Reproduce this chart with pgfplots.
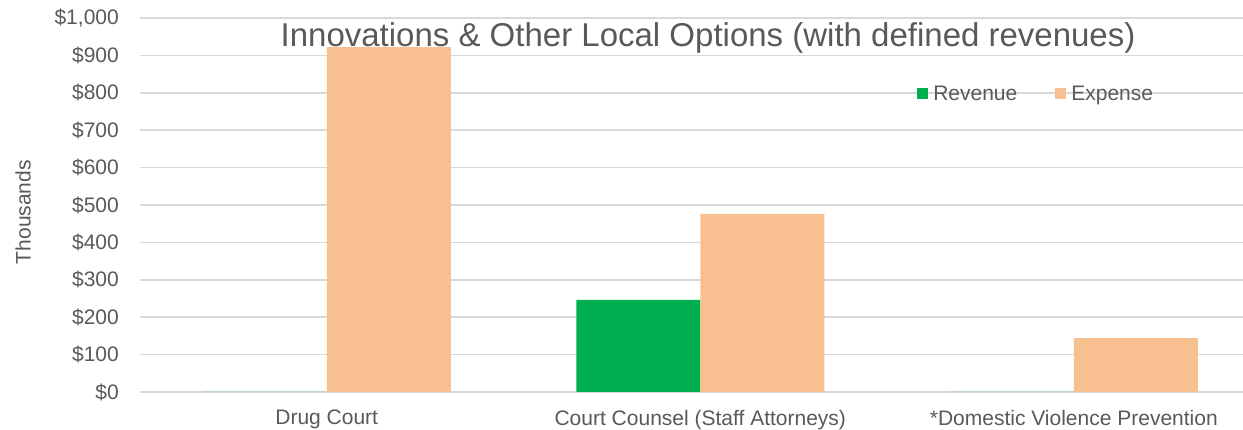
\documentclass[border=0pt]{standalone}
\usepackage{fontspec}
\setmainfont{Liberation Sans}
\usepackage{pgfplots}
\pgfplotsset{compat=1.18}
\definecolor{revgreen}{HTML}{00B050}
\definecolor{exppeach}{HTML}{F8C091}
\definecolor{txtgray}{HTML}{595959}
\definecolor{gridgray}{HTML}{D9D9D9}
\begin{document}
\begin{tikzpicture}
\begin{axis}[
  at={(0pt,0pt)}, anchor=south west,
  scale only axis, width=1103pt, height=374pt,
  xmin=-0.5, xmax=2.453, ymin=0, ymax=1000,
  ybar=0pt, bar width=0.332,
  xtick={0,1,2},
  xticklabels={Drug Court, Court Counsel (Staff Attorneys), *Domestic Violence Prevention},
  ytick={0,100,...,1000},
  yticklabels={\$0,\$100,\$200,\$300,\$400,\$500,\$600,\$700,\$800,\$900,{\$1,000}},
  ymajorgrids, grid style={gridgray, line width=1.5pt},
  axis line style={draw=none}, major tick length=0pt,
  tick label style={font=\fontsize{21}{25}\selectfont, text=txtgray},
  yticklabel style={inner xsep=0pt, xshift=-21pt},
  xticklabel style={inner ysep=0pt, anchor=north, yshift=-18pt},
  ylabel={Thousands},
  ylabel style={at={(axis description cs:0,0.481)}, anchor=center, yshift=117pt,
    font=\fontsize{21}{25}\selectfont, text=txtgray},
  title={Innovations \& Other Local Options (with defined revenues)},
  title style={at={(0.515,0.923)}, anchor=base, yshift=-6pt, font=\fontsize{33}{40}\selectfont, text=txtgray},
  legend style={draw=none, fill=none, at={(0.7045,0.798)}, anchor=west, inner sep=0pt,
    legend columns=2, font=\fontsize{21}{25}\selectfont, text=txtgray,
    nodes={inner xsep=5pt, inner ysep=0pt},
    /tikz/every even column/.append style={column sep=33pt}},
  legend image code/.code={\fill[#1] (0pt,-5.5pt) rectangle (11pt,5.5pt);},
]
\addplot[fill=revgreen, draw=none] coordinates {(0,0) (1,246) (2,0)};
\addlegendentry{Revenue}
\addplot[fill=exppeach, draw=none] coordinates {(0,922) (1,476) (2,144)};
\addlegendentry{Expense}
\end{axis}
\pgfresetboundingbox
\path[use as bounding box] (-140pt,-38pt) rectangle (1103pt,392pt);
\end{tikzpicture}
\end{document}
